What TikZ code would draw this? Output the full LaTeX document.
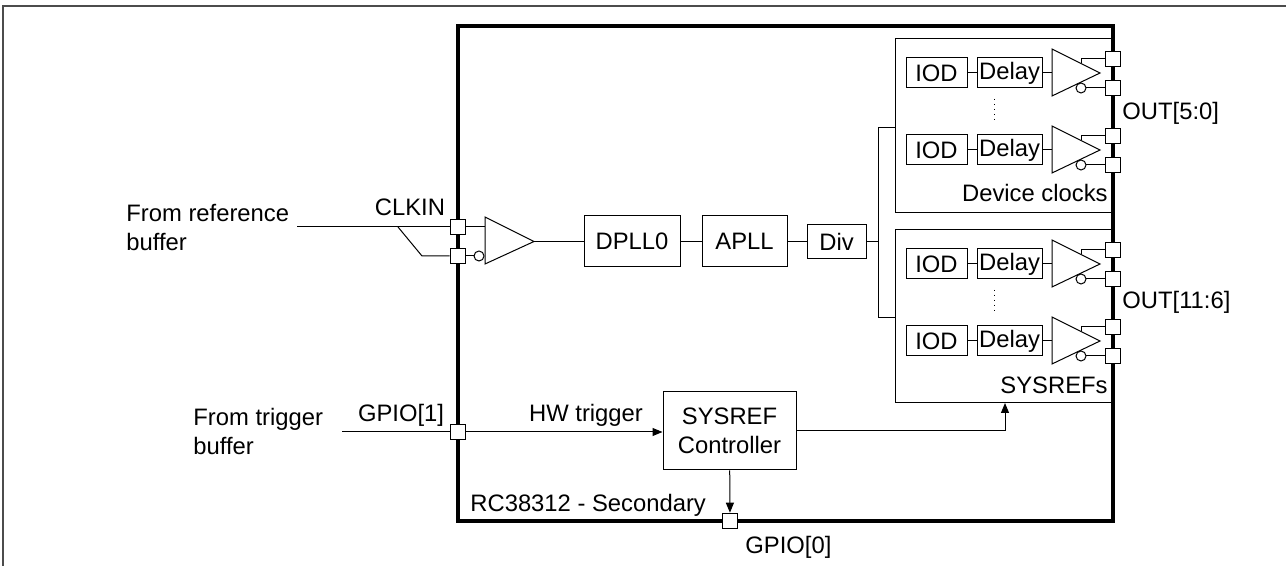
\documentclass[tikz,border=0pt]{standalone}
\usepackage{fontspec}
\setmainfont{Liberation Sans}
\usetikzlibrary{arrows.meta}
\begin{document}
\begin{tikzpicture}[x=0.5pt,y=-0.5pt,
  font=\fontsize{11.9}{14.5}\selectfont,
  wire/.style={line width=0.5pt},
  blk/.style={draw,line width=0.5pt,inner sep=0pt,minimum height=15pt},
  port/.style={draw,fill=white,line width=0.5pt,inner sep=0pt,minimum size=7.8pt},
  lbl/.style={inner sep=0pt},
  arr/.style={wire,-{Triangle[length=5pt,width=4pt]}}]
 \useasboundingbox (0,0) rectangle (1286,566);
 \draw[black!70,line width=1pt] (3,566) -- (3,6) -- (1286,6);
 % output groups
 \draw[wire] (1113,39) -- (895,39) -- (895,213) -- (1113,213);
 \draw[wire] (1113,230) -- (895,230) -- (895,403) -- (1113,403);
 \node[lbl,anchor=east] (devlbl) at (1108,193) {Device clocks};
 \node[lbl,anchor=east] (syslbl) at (1108,385) {SYSREFs};
 \foreach \a/\n in {73/a,150/b,264/c,341/d} {
   \node[blk,minimum width=30.5pt] (iod\n) at (936.5,\a) {IOD};
   \node[blk,minimum width=32.5pt] (dly\n) at (1009.5,\a) {Delay};
   \coordinate (bin\n) at (1052,\a);
   \draw[wire] (1052,\a-24) -- (1100,\a) -- (1052,\a+23) -- cycle;
   \draw[wire] (iod\n) -- (dly\n);
   \draw[wire] (dly\n.east) -- (bin\n);
   \draw[wire] (1081,\a+15) circle (2.5pt);
   \coordinate (bp\n) at (1081,\a-9.5);
   \coordinate (bn\n) at (1086,\a+15);
 }
 \draw[wire,dotted] (994,99) -- (994,121);
 \draw[wire,dotted] (994,290) -- (994,312);
 % main path
 \node[blk,minimum width=48pt,minimum height=25.5pt] (dpll) at (632,241.5) {DPLL0};
 \node[blk,minimum width=42.5pt,minimum height=25.5pt] (apll) at (744.5,241.5) {APLL};
 \node[blk,minimum width=29.5pt,minimum height=17pt] (div) at (836.5,241.5) {Div};
 \coordinate (trk) at (878,241.5);
 \draw[wire] (dpll) -- (apll);
 \draw[wire] (apll) -- (div);
 \draw[wire] (div) -- (trk);
 \draw[wire] (895,128) -- (878,128) -- (878,318) -- (895,318);
 % input buffer
 \coordinate (ibin) at (485,227);
 \coordinate (ibout) at (534,241.5);
 \draw[wire] (485,217) -- (ibout) -- (485,264) -- cycle;
 \draw[wire] (ibout) -- (dpll);
 \draw[wire] (479,256) circle (2.5pt);
 \coordinate (ibn) at (474,256);
 % controller
 \node[blk,minimum width=66.5pt,minimum height=39pt,align=center] (ctrl) at (729.5,431)
   {SYSREF\\Controller};
 \draw[arr] (ctrl.east) -| (1005,403);
 % chip
 \draw[line width=2.2pt] (458,26) rectangle (1113,521);
 \node[lbl,anchor=west] (chiplbl) at (470,505) {RC38312 - Secondary};
 \foreach \a/\n in {73/a,150/b,264/c,341/d} {
   \node[port] (po\n1) at (1113,\a-14) {};
   \node[port] (po\n2) at (1113,\a+15) {};
   \draw[wire] (bp\n) |- (po\n1);
   \draw[wire] (bn\n) -- (po\n2);
 }
 \node[lbl,anchor=west] (outa) at (1122,113) {OUT[5:0]};
 \node[lbl,anchor=west] (outb) at (1122,302) {OUT[11:6]};
 \node[port] (pc1) at (458,227) {};
 \node[port] (pc2) at (458,256) {};
 \node[port] (pg1) at (458,432) {};
 \node[port] (pg0) at (730,521) {};
 % inputs
 \coordinate (refin) at (297,227);
 \coordinate (refsplit) at (398,227);
 \coordinate (refbend) at (422,256);
 \draw[wire] (refin) -- (pc1);
 \draw[wire] (pc1) -- (ibin);
 \draw[wire] (refsplit) -- (refbend) -- (pc2);
 \draw[wire] (pc2) -- (ibn);
 \node[lbl] (clkinlbl) at (410,207) {CLKIN};
 \node[lbl,anchor=west,align=left] (reflbl) at (126,228) {From reference\\buffer};
 \coordinate (trgin) at (342,432);
 \draw[wire] (trgin) -- (pg1);
 \draw[arr] (pg1) -- (ctrl.west |- pg1);
 \node[lbl] (hwlbl) at (586,415) {HW trigger};
 \node[lbl] (g1lbl) at (401,415) {GPIO[1]};
 \node[lbl,anchor=west,align=left] (trglbl) at (193,431) {From trigger\\buffer};
 \draw[arr] (ctrl) -- (pg0);
 \node[lbl,anchor=west] (g0lbl) at (745,547) {GPIO[0]};
\end{tikzpicture}
\end{document}
